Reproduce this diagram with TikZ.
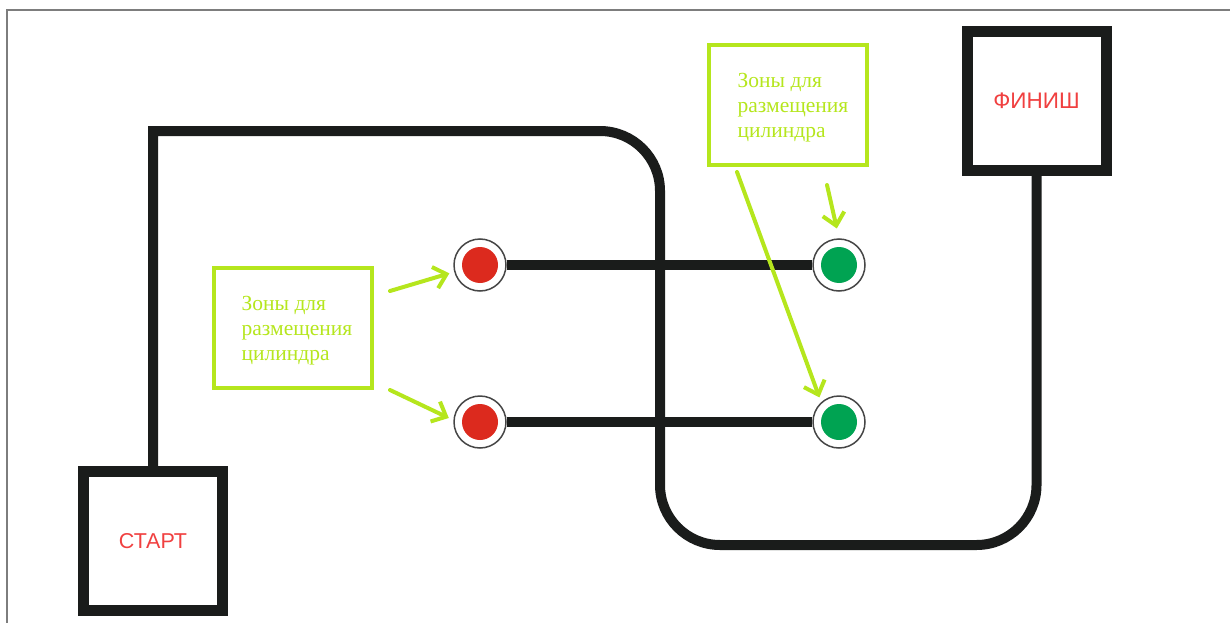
\documentclass[tikz,border=0pt]{standalone}
\usepackage{fontspec}
\setmainfont{Liberation Serif}
\newfontfamily\arialfont{Liberation Sans}
\usetikzlibrary{arrows.meta}
\definecolor{lime}{RGB}{181,230,29}
\definecolor{trackblack}{RGB}{26,28,27}
\definecolor{dotred}{RGB}{220,42,30}
\definecolor{dotgreen}{RGB}{0,163,82}
\definecolor{labelred}{RGB}{240,64,64}
\definecolor{framegray}{RGB}{125,125,125}
\definecolor{ringgray}{RGB}{70,70,70}
\begin{document}
\begin{tikzpicture}[x=1pt,y=-1pt,
  track/.style={draw=trackblack, line width=10pt},
  endbox/.style={draw=trackblack, line width=11pt, minimum width=139pt, minimum height=139pt, inner sep=0pt, font=\arialfont\fontsize{21.5}{24}\selectfont, text=labelred},
  ring/.style={circle, draw=ringgray, line width=1.5pt, fill=white, minimum size=52pt, inner sep=0pt},
  dot/.style={circle, minimum size=36pt, inner sep=0pt},
  zonebox/.style={draw=lime, line width=4pt, minimum width=158pt, minimum height=120pt, inner sep=0pt},
  zonetext/.style={align=left, text=lime, inner sep=0pt, font=\fontsize{21.5}{25}\selectfont},
  pointer/.style={draw=lime, line width=4pt, line cap=round, line join=round, -{Straight Barb[length=12pt,width=22pt]}}
]
\useasboundingbox (0,0) rectangle (1230,623);
\draw[framegray, line width=2pt] (1230,10.5) -- (7,10.5) -- (7,623);

\node[endbox] (start) at (153,541) {СТАРТ};
\node[endbox, font=\arialfont\fontsize{22.5}{24}\selectfont] (fin) at (1036.5,101) {ФИНИШ};

\coordinate (tl) at (154,131);
\coordinate (tm) at (400,131);
\coordinate (tr) at (660,131);
\coordinate (bl) at (660,545);
\draw[track] (start.north) -- (start.north |- tl) -- (tm) [rounded corners=60pt] -- (tr) -- (bl) -- (fin.south |- bl) -- (fin.south);

\node[ring] (r1) at (480,265) {};
\node[ring] (r2) at (480,422) {};
\node[ring] (g1) at (839,265) {};
\node[ring] (g2) at (839,422) {};
\node[dot, fill=dotred] (r1d) at (r1) {};
\node[dot, fill=dotred] (r2d) at (r2) {};
\node[dot, fill=dotgreen] (g1d) at (g1) {};
\node[dot, fill=dotgreen] (g2d) at (g2) {};
\draw[track] (r1.east) -- (g1.west);
\draw[track] (r2.east) -- (g2.west);

\node[zonebox] (z1) at (293,328) {};
\node[zonetext] (z1t) at (297,331) {Зоны для\\размещения\\цилиндра};
\node[zonebox] (z2) at (788,105) {};
\node[zonetext] (z2t) at (793,108) {Зоны для\\размещения\\цилиндра};

\coordinate (a1s) at (390,291);
\coordinate (a2s) at (390,390);
\coordinate (a3s) at (827,185);
\coordinate (a4s) at (737,172);
\draw[pointer, shorten >=5pt] (a1s) -- (r1.195);
\draw[pointer, shorten >=5pt] (a2s) -- (r2.176);
\draw[pointer, shorten >=10pt] (a3s) -- (g1.north);
\draw[pointer, shorten >=5pt] (a4s) -- (g2.132);
\end{tikzpicture}
\end{document}
